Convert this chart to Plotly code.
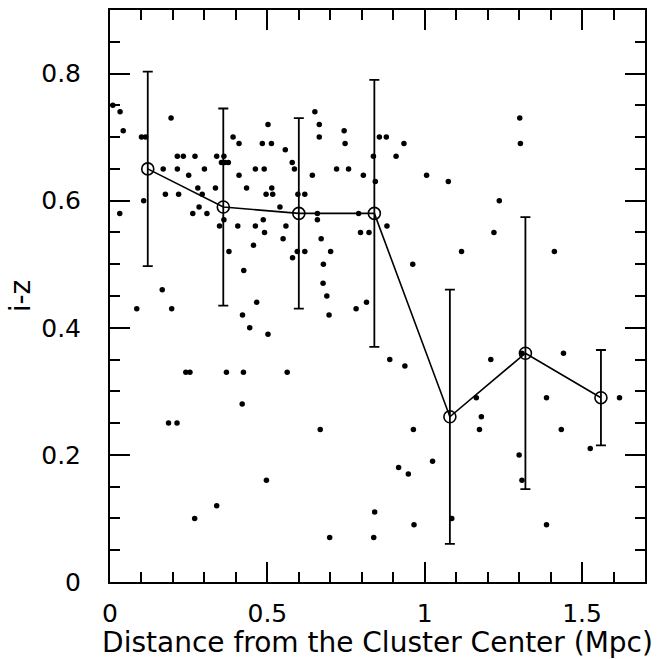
import plotly.graph_objects as go

# Individual galaxies: distance (Mpc) and i-z colour
dist_pts = [0.009, 0.032, 0.042, 0.100, 0.113, 0.194, 0.169, 0.214, 0.233, 0.270,
            0.214, 0.250, 0.300, 0.176, 0.218, 0.279, 0.293, 0.335, 0.339, 0.362,
            0.354, 0.365, 0.376, 0.391, 0.410, 0.410, 0.434, 0.462, 0.490, 0.484,
            0.513, 0.502, 0.557, 0.579, 0.586, 0.496, 0.517, 0.514, 0.597, 0.619,
            0.643, 0.651, 0.665, 0.665, 0.720, 0.758, 0.744, 0.747, 0.805, 0.837,
            0.843, 0.856, 0.878, 0.909, 0.934, 1.006, 1.075, 1.302, 1.304, 1.237,
            0.107, 0.031, 0.283, 0.263, 0.308, 0.348, 0.362, 0.406, 0.462, 0.487,
            0.491, 0.540, 0.559, 0.550, 0.456, 0.378, 0.580, 0.595, 0.425, 0.166,
            0.085, 0.196, 0.466, 0.421, 0.444, 0.502, 0.241, 0.254, 0.370, 0.424,
            0.563, 0.659, 0.659, 0.790, 0.671, 0.796, 0.823, 0.880, 0.619, 0.701,
            0.678, 0.677, 0.689, 0.696, 0.782, 0.815, 0.962, 1.117, 0.889, 0.937,
            1.220, 1.412, 1.210, 1.441, 1.309, 0.186, 0.213, 0.420, 0.497, 0.339,
            0.269, 0.668, 0.964, 1.025, 0.917, 0.948, 0.841, 0.966, 0.698, 0.838,
            1.086, 1.164, 1.180, 1.174, 1.387, 1.434, 1.619, 1.526, 1.300, 1.309,
            1.387]
iz_pts = [0.75, 0.74, 0.71, 0.70, 0.70, 0.73, 0.65, 0.67, 0.67, 0.67,
          0.65, 0.64, 0.65, 0.61, 0.61, 0.62, 0.61, 0.62, 0.67, 0.67,
          0.66, 0.66, 0.66, 0.70, 0.69, 0.64, 0.62, 0.65, 0.65, 0.69,
          0.69, 0.72, 0.68, 0.66, 0.65, 0.61, 0.61, 0.62, 0.61, 0.61,
          0.64, 0.74, 0.72, 0.70, 0.65, 0.65, 0.71, 0.69, 0.64, 0.67,
          0.63, 0.70, 0.70, 0.67, 0.69, 0.64, 0.63, 0.73, 0.69, 0.60,
          0.60, 0.58, 0.59, 0.58, 0.58, 0.56, 0.57, 0.56, 0.56, 0.57,
          0.55, 0.59, 0.56, 0.54, 0.53, 0.52, 0.51, 0.52, 0.49, 0.46,
          0.43, 0.43, 0.44, 0.42, 0.40, 0.39, 0.33, 0.33, 0.33, 0.33,
          0.33, 0.58, 0.57, 0.58, 0.54, 0.55, 0.55, 0.56, 0.52, 0.52,
          0.50, 0.47, 0.45, 0.42, 0.43, 0.44, 0.50, 0.52, 0.35, 0.34,
          0.55, 0.52, 0.35, 0.36, 0.36, 0.25, 0.25, 0.28, 0.16, 0.12,
          0.10, 0.24, 0.24, 0.19, 0.18, 0.17, 0.11, 0.09, 0.07, 0.07,
          0.10, 0.29, 0.26, 0.24, 0.29, 0.24, 0.29, 0.21, 0.20, 0.16,
          0.09]

# Binned means with errors
bin_dist = [0.12, 0.36, 0.60, 0.84, 1.08, 1.32, 1.56]
bin_iz = [0.65, 0.59, 0.58, 0.58, 0.26, 0.36, 0.29]
bin_err = [0.153, 0.155, 0.150, 0.210, 0.200, 0.214, 0.075]

FONT = "DejaVu Sans"

fig = go.Figure()
fig.add_trace(go.Scatter(
    x=dist_pts, y=iz_pts, mode="markers",
    marker=dict(size=5.5, color="black"),
    showlegend=False, cliponaxis=False))
fig.add_trace(go.Scatter(
    x=bin_dist, y=bin_iz, mode="lines+markers",
    line=dict(color="black", width=1.6),
    marker=dict(symbol="circle-open", size=12, color="black",
                line=dict(width=1.6, color="black")),
    error_y=dict(type="data", array=bin_err, visible=True,
                 color="black", thickness=1.8, width=5),
    showlegend=False, cliponaxis=False))

axis_common = dict(
    showline=True, linewidth=2, linecolor="black", mirror="allticks",
    ticks="inside", ticklen=20, tickwidth=1.5, tickcolor="black",
    showgrid=False, zeroline=False,
    tickfont=dict(family=FONT, size=25, color="black"),
)

fig.update_xaxes(
    range=[0, 1.7], tickmode="linear", tick0=0, dtick=0.5,
    minor=dict(dtick=0.1, ticklen=10, tickwidth=1.5, tickcolor="black",
               ticks="inside", showgrid=False),
    ticklabelstandoff=8,
    title=dict(text="Distance from the Cluster Center (Mpc)",
               font=dict(family=FONT, size=28, color="black"), standoff=3),
    **axis_common)
fig.update_yaxes(
    range=[0, 0.9], tickmode="linear", tick0=0, dtick=0.2,
    minor=dict(dtick=0.05, ticklen=10, tickwidth=1.5, tickcolor="black",
               ticks="inside", showgrid=False),
    ticklabelstandoff=22,
    title=dict(text="i-z", font=dict(family=FONT, size=28, color="black"),
               standoff=2),
    **axis_common)

fig.update_layout(
    width=670, height=659,
    margin=dict(l=110, r=25, t=8, b=73),
    plot_bgcolor="white", paper_bgcolor="white",
    font=dict(family=FONT, color="black"),
)

fig.write_html("out.html")
